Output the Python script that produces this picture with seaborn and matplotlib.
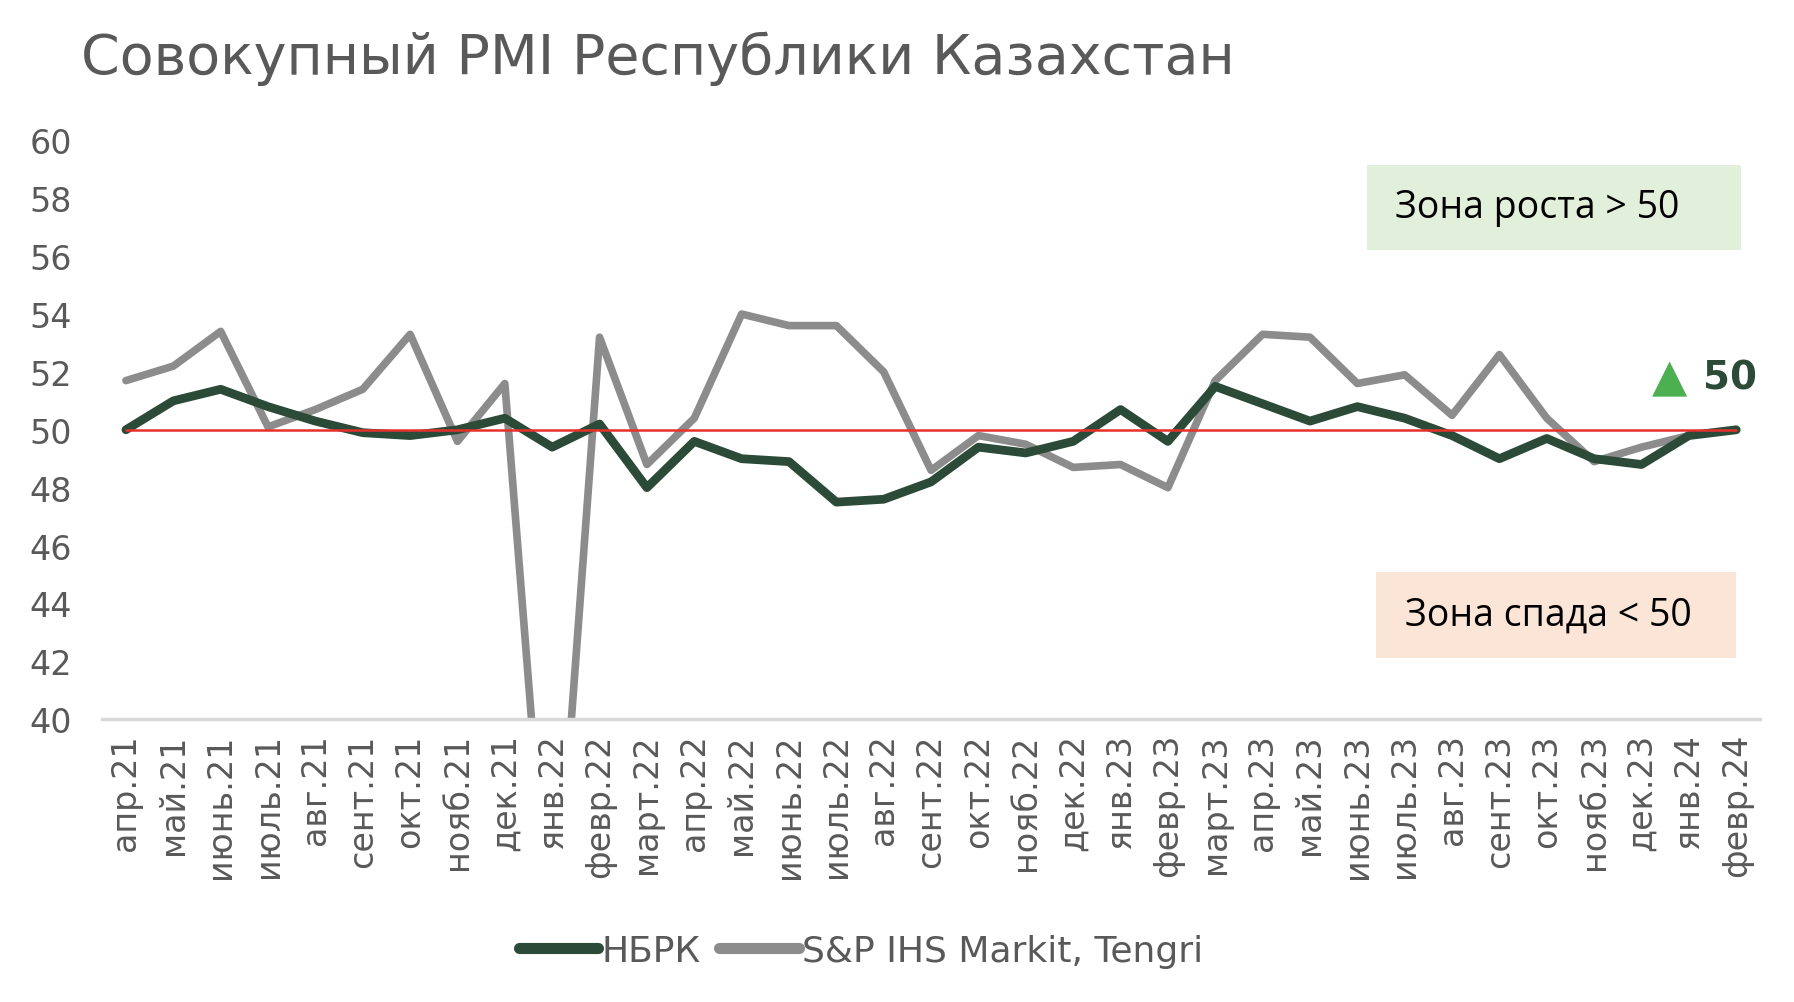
import numpy as np
import pandas as pd
import matplotlib
matplotlib.use("Agg")
import matplotlib.pyplot as plt
import seaborn as sns
from matplotlib.patches import Rectangle

# Data
months = ["апр.21", "май.21", "июнь.21", "июль.21", "авг.21", "сент.21", "окт.21",
          "нояб.21", "дек.21", "янв.22", "февр.22", "март.22", "апр.22", "май.22",
          "июнь.22", "июль.22", "авг.22", "сент.22", "окт.22", "нояб.22", "дек.22",
          "янв.23", "февр.23", "март.23", "апр.23", "май.23", "июнь.23", "июль.23",
          "авг.23", "сент.23", "окт.23", "нояб.23", "дек.23", "янв.24", "февр.24"]
nbrk = [50.0, 51.0, 51.4, 50.8, 50.3, 49.9, 49.8, 50.0, 50.4, 49.4, 50.2, 48.0,
        49.6, 49.0, 48.9, 47.5, 47.6, 48.2, 49.4, 49.2, 49.6, 50.7, 49.6, 51.5,
        50.9, 50.3, 50.8, 50.4, 49.8, 49.0, 49.7, 49.0, 48.8, 49.8, 50.0]
sp_markit = [51.7, 52.2, 53.4, 50.1, 50.7, 51.4, 53.3, 49.6, 51.6, 31.0, 53.2, 48.8,
             50.4, 54.0, 53.6, 53.6, 52.0, 48.6, 49.8, 49.5, 48.7, 48.8, 48.0, 51.7,
             53.3, 53.2, 51.6, 51.9, 50.5, 52.6, 50.4, 48.9, 49.4, 49.8, np.nan]
threshold = [50.0] * len(months)
y_ticks = [40, 42, 44, 46, 48, 50, 52, 54, 56, 58, 60]

df = pd.DataFrame({"pos": range(len(months)), "НБРК": nbrk,
                   "S&P IHS Markit, Tengri": sp_markit, "threshold": threshold})

sns.set_theme(style="white")
plt.rcParams["font.family"] = ["DejaVu Sans"]

text_gray = "#595959"
green = "#2b4a37"
gray = "#8c8c8c"

fig = plt.figure(figsize=(17.94, 10.03), dpi=100)
ax = fig.add_axes([0.057, 0.282, 0.924, 0.577])

sns.lineplot(data=df, x="pos", y="НБРК", color=green, lw=6.3, ax=ax,
             label="НБРК", solid_capstyle="round", zorder=3)
sns.lineplot(data=df, x="pos", y="S&P IHS Markit, Tengri", color=gray, lw=5.5, ax=ax,
             label="S&P IHS Markit, Tengri", solid_capstyle="round", zorder=2)
sns.lineplot(data=df, x="pos", y="threshold", color="#e8302a", lw=1.8, ax=ax,
             legend=False, zorder=4)

ax.set_xlim(-0.5, len(months) - 0.5)
ax.set_ylim(40, 60)
ax.set_yticks(y_ticks)
ax.set_yticklabels([str(v) for v in y_ticks], fontsize=24, color=text_gray)
ax.set_xticks(range(len(months)))
ax.set_xticklabels(months, rotation=90, fontsize=24, color=text_gray)
ax.set_xticks(np.arange(-0.5, len(months)), minor=True)
ax.tick_params(axis="x", which="major", length=0, pad=10)
ax.tick_params(axis="x", which="minor", length=8, width=1.5, color="#d9d9d9", direction="out")
ax.tick_params(axis="y", length=0, pad=22)
ax.set_xlabel("")
ax.set_ylabel("")
for s in ["left", "right", "top"]:
    ax.spines[s].set_visible(False)
ax.spines["bottom"].set_color("#d9d9d9")
ax.spines["bottom"].set_linewidth(2.5)

# zone boxes
ax.add_patch(Rectangle((26.2, 56.2), 7.9, 2.95, facecolor="#e2efda", edgecolor="none", zorder=1))
ax.text(26.8, 57.7, "Зона роста > 50", fontsize=27, color="black", va="center",
        family=["Open Sans", "DejaVu Sans"], zorder=5)
ax.add_patch(Rectangle((26.4, 42.1), 7.6, 3.0, facecolor="#fbe5d6", edgecolor="none", zorder=1))
ax.text(27.0, 43.6, "Зона спада < 50", fontsize=27, color="black", va="center",
        family=["Open Sans", "DejaVu Sans"], zorder=5)

# latest value marker
ax.text(32.6, 51.8, "▲", fontsize=33, color="#4caf50", ha="center", va="center",
        clip_on=False, zorder=5)
ax.text(33.3, 51.8, "50", fontsize=28, color=green, fontweight="bold", ha="left",
        va="center", clip_on=False, zorder=5)

fig.text(0.045, 0.941, "Совокупный PMI Республики Казахстан", fontsize=40,
         color=text_gray, va="center", ha="left")

ax.legend_.remove()
handles, labels = ax.get_legend_handles_labels()
leg = fig.legend(handles[:2], labels[:2], loc="center", bbox_to_anchor=(0.48, 0.051),
                 ncol=2, frameon=False, fontsize=26, handlelength=2.2,
                 handletextpad=0.1, columnspacing=0.5)
for t in leg.get_texts():
    t.set_color(text_gray)
for h in leg.legend_handles:
    h.set_linewidth(8)

fig.savefig("out.png", dpi=100)
